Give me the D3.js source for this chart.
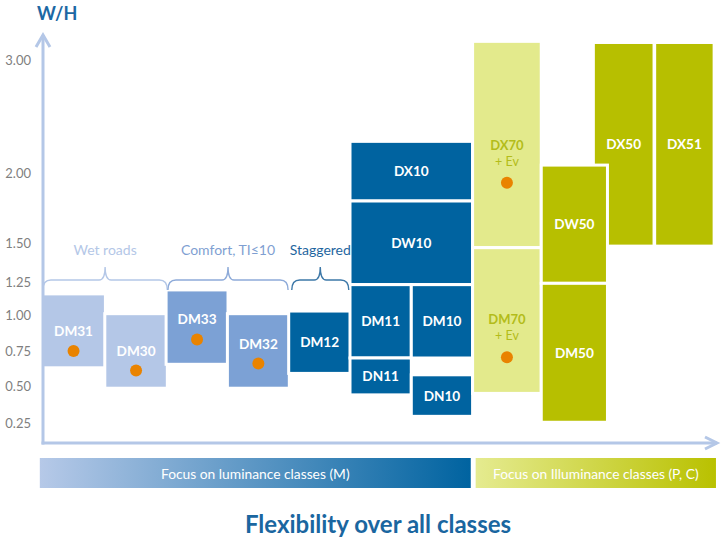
<!DOCTYPE html>
<html>
<head>
<meta charset="utf-8">
<script src="https://cdn.jsdelivr.net/npm/d3@7"></script>
<style>
  html, body { margin: 0; padding: 0; background: #fff; }
  svg { display: block; }
  text { font-family: Lato, "Open Sans", sans-serif; }
</style>
</head>
<body>
<svg id="chart" width="722" height="540"></svg>
<script>
// ---------- data ----------
const yTicks = [0.25, 0.5, 0.75, 1.0, 1.25, 1.5, 2.0, 3.0];
const yTickLabels = ["0.25", "0.50", "0.75", "1.00", "1.25", "1.50", "2.00", "3.00"];

const classes   = ["DM31","DM30","DM33","DM32","DM12","DX10","DW10","DM11","DN11","DM10","DN10","DX70","DM70","DX50","DX51","DW50","DM50"];
const colStart  = [-0.03, 1.0, 2.0, 3.0, 4.0, 5.0, 5.0, 5.0, 5.0, 6.0, 6.0, 7.0, 7.0, 8.97, 9.97, 8.12, 8.12];
const colEnd    = [1.01, 2.02, 3.01, 4.01, 5.01, 7.0, 7.0, 6.0, 6.0, 7.0, 7.0, 8.12, 8.12, 9.96, 10.94, 9.2, 9.2];
const whLow     = [0.63, 0.485, 0.655, 0.485, 0.59, 1.8, 1.23, 0.70, 0.44, 0.70, 0.295, 1.47, 0.45, 1.48, 1.48, 1.24, 0.255];
const whHigh    = [1.16, 1.01, 1.19, 1.01, 1.03, 2.28, 1.8, 1.23, 0.70, 1.23, 0.58, 3.165, 1.47, 3.155, 3.155, 2.07, 1.24];
const dotWH     = [0.75, 0.61, 0.83, 0.66, null, null, null, null, null, null, null, 1.93, 0.705, null, null, null, null];
const subLabels = [null, null, null, null, null, null, null, null, null, null, null, "+ Ev", "+ Ev", null, null, null, null];
const families  = ["wet","wet","comfort","comfort","dark","dark","dark","dark","dark","dark","dark","lightOlive","lightOlive","olive","olive","olive","olive"];

const groupLabels = ["Wet roads", "Comfort, TI\u226410", "Staggered"];
const groupStart  = [-0.01, 2.03, 4.05];
const groupEnd    = [2.02, 3.99, 4.98];
const groupFamily = ["wet", "comfort", "staggered"];

const bannerLabels = ["Focus on luminance classes (M)", "Focus on Illuminance classes (P, C)"];
const bannerStart  = [-0.06, 7.05];
const bannerEnd    = [6.97, 10.97];

const yAxisTitle = "W/H";
const chartTitle = "Flexibility over all classes";

// ---------- styles ----------
const fill = { wet: "#b4c7e7", comfort: "#7ca1d5", dark: "#0063a0", lightOlive: "#e3ea8c", olive: "#b7bf00" };
const textFill = { wet: "#fff", comfort: "#fff", dark: "#fff", lightOlive: "#b3bc1a", olive: "#fff" };
const bracketStroke = { wet: "#b4c7e7", comfort: "#8eabd9", staggered: "#3d78a8" };
const bracketText = { wet: "#b4c7e7", comfort: "#7f9fd2", staggered: "#1f66a0" };
const axisColor = "#b4c7e7";

// ---------- scales ----------
const svg = d3.select("#chart");
const x = d3.scaleLinear().domain([0, 11]).range([43.5, 43.5 + 61.3 * 11]);
const y = d3.scaleLinear().domain(yTicks).range([423, 386, 351, 315, 282, 243, 173, 60]);

// gradients
const defs = svg.append("defs");
const g1 = defs.append("linearGradient").attr("id", "gLum").attr("x1", "0%").attr("x2", "100%");
g1.append("stop").attr("offset", "0%").attr("stop-color", "#b6c9e8");
g1.append("stop").attr("offset", "100%").attr("stop-color", "#0063a0");
const g2 = defs.append("linearGradient").attr("id", "gIll").attr("x1", "0%").attr("x2", "100%");
g2.append("stop").attr("offset", "0%").attr("stop-color", "#e5eb90");
g2.append("stop").attr("offset", "100%").attr("stop-color", "#b9c100");

// ---------- boxes ----------
const boxes = classes.map((c, i) => ({
  name: c, x0: colStart[i], x1: colEnd[i], lo: whLow[i], hi: whHigh[i],
  dot: dotWH[i], sub: subLabels[i], fam: families[i]
}));

const gBox = svg.append("g");
gBox.selectAll("rect").data(boxes).join("rect")
  .attr("x", d => x(d.x0))
  .attr("y", d => y(d.hi))
  .attr("width", d => x(d.x1) - x(d.x0))
  .attr("height", d => y(d.lo) - y(d.hi))
  .attr("fill", d => fill[d.fam])
  .attr("stroke", "#fff")
  .attr("stroke-width", 3);

// dots
gBox.selectAll("circle").data(boxes.filter(d => d.dot != null)).join("circle")
  .attr("cx", d => (x(d.x0) + x(d.x1)) / 2)
  .attr("cy", d => y(d.dot))
  .attr("r", 6)
  .attr("fill", "#e98300");

// labels
boxes.forEach(d => {
  const cx = (x(d.x0) + x(d.x1)) / 2;
  let cy;
  if (d.dot != null) cy = y(d.dot) - (d.sub ? 38 : 20);
  else cy = (y(d.lo) + y(d.hi)) / 2;
  gBox.append("text")
    .attr("x", cx).attr("y", cy)
    .attr("text-anchor", "middle").attr("dominant-baseline", "central")
    .attr("font-size", d.sub ? 13 : 13.6).attr("font-weight", "bold")
    .attr("fill", textFill[d.fam])
    .text(d.name);
  if (d.sub) {
    gBox.append("text")
      .attr("x", cx).attr("y", cy + 16.5)
      .attr("text-anchor", "middle").attr("dominant-baseline", "central")
      .attr("font-size", 12.5)
      .attr("fill", textFill[d.fam])
      .text(d.sub);
  }
});

// ---------- brackets ----------
const gBr = svg.append("g");
groupLabels.forEach((lab, i) => {
  const x0 = x(groupStart[i]), x1 = x(groupEnd[i]), xm = (x0 + x1) / 2;
  const yb = 290, yl = 280, yp = 267;
  const p = d3.path();
  p.moveTo(x0, yb);
  p.quadraticCurveTo(x0, yl, x0 + 8, yl);
  p.lineTo(xm - 6, yl);
  p.quadraticCurveTo(xm, yl, xm, yp);
  p.quadraticCurveTo(xm, yl, xm + 6, yl);
  p.lineTo(x1 - 8, yl);
  p.quadraticCurveTo(x1, yl, x1, yb);
  gBr.append("path").attr("d", p.toString())
    .attr("fill", "none").attr("stroke", bracketStroke[groupFamily[i]]).attr("stroke-width", 1.4);
  gBr.append("text")
    .attr("x", xm).attr("y", 249)
    .attr("text-anchor", "middle").attr("dominant-baseline", "central")
    .attr("font-size", 14)
    .attr("fill", bracketText[groupFamily[i]])
    .text(lab);
});

// ---------- axes ----------
const gAx = svg.append("g").attr("stroke", axisColor).attr("stroke-width", 3).attr("fill", "none")
  .attr("stroke-linecap", "butt");
const ax0 = 43, ay0 = 443;
gAx.append("line").attr("x1", ax0).attr("y1", ay0 + 1.5).attr("x2", ax0).attr("y2", 35);
gAx.append("polyline").attr("points", `${ax0 - 7},47 ${ax0},35 ${ax0 + 7},47`).attr("stroke-linejoin", "miter");
gAx.append("line").attr("x1", ax0 - 1.5).attr("y1", ay0).attr("x2", 717).attr("y2", ay0);
gAx.append("polyline").attr("points", `705,437 717,${ay0} 705,449`);

const yAxis = d3.axisLeft(y).tickValues(yTicks).tickFormat((d, i) => yTickLabels[i]).tickSize(0).tickPadding(0);
const gy = svg.append("g").attr("transform", "translate(31,0)").call(yAxis);
gy.select(".domain").remove();
gy.selectAll("text").attr("font-size", 13).attr("fill", "#7f7f7f").attr("font-family", "Lato, sans-serif");

svg.append("text").attr("x", 37).attr("y", 13)
  .attr("dominant-baseline", "central")
  .attr("font-size", 18).attr("font-weight", "bold").attr("fill", "#1c68a4")
  .text(yAxisTitle);

// ---------- banners ----------
const bannerFill = ["url(#gLum)", "url(#gIll)"];
bannerLabels.forEach((lab, i) => {
  const bx0 = x(bannerStart[i]), bx1 = x(bannerEnd[i]);
  svg.append("rect").attr("x", bx0).attr("y", 458).attr("width", bx1 - bx0).attr("height", 30)
    .attr("fill", bannerFill[i]);
  svg.append("text").attr("x", (bx0 + bx1) / 2).attr("y", 473)
    .attr("text-anchor", "middle").attr("dominant-baseline", "central")
    .attr("font-size", 13.8).attr("fill", "#fff")
    .text(lab);
});

svg.append("text").attr("x", 378).attr("y", 523)
  .attr("text-anchor", "middle").attr("dominant-baseline", "central")
  .attr("font-size", 24).attr("font-weight", "bold").attr("fill", "#1a66a0")
  .text(chartTitle);
</script>
</body>
</html>
